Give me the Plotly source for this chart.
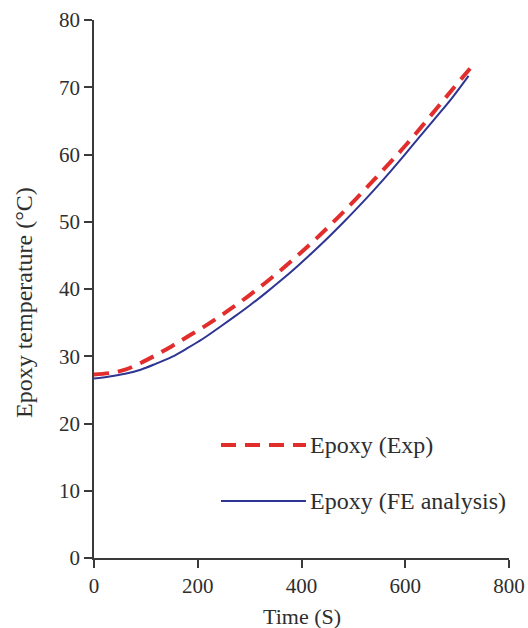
import plotly.graph_objects as go

# Measured epoxy temperature (experiment)
time_exp = [0, 30, 60, 90, 120, 150, 180, 210, 240, 270, 300, 330, 360, 390,
            420, 450, 480, 510, 540, 570, 600, 630, 660, 690, 725]
temp_exp = [27.3, 27.5, 28.0, 29.0, 30.2, 31.5, 32.9, 34.3, 35.8, 37.4, 39.1,
            40.9, 42.8, 44.8, 46.9, 49.1, 51.4, 53.8, 56.25, 58.75, 61.3, 64.0,
            66.8, 69.6, 72.8]

# Finite-element prediction
time_fe = [0, 30, 60, 90, 120, 150, 180, 210, 240, 270, 300, 330, 360, 390,
           420, 450, 480, 510, 540, 570, 600, 630, 660, 690, 722]
temp_fe = [26.7, 27.0, 27.4, 28.0, 28.9, 29.9, 31.2, 32.6, 34.2, 35.85, 37.55,
           39.35, 41.25, 43.25, 45.35, 47.55, 49.85, 52.25, 54.75, 57.35, 60.05,
           62.85, 65.6, 68.4, 71.7]

x_ticks = [0, 200, 400, 600, 800]
y_ticks = [0, 10, 20, 30, 40, 50, 60, 70, 80]

RED = "#e22d2d"
BLUE = "#2e3592"
AXIS = "#3a3a3a"
TEXT = "#2e2e2e"
FONT = "Liberation Serif"

# Plot-area geometry in pixels (used to place the hand-drawn legend and titles)
W, H = 528, 628
ML, MR, MT, MB = 94, 19, 20, 70
PW, PH = W - ML - MR, H - MT - MB


def px_x(p):
    return (p - ML) / PW


def px_y(p):
    return (H - MB - p) / PH


fig = go.Figure()
fig.add_trace(go.Scatter(x=time_exp, y=temp_exp, mode="lines", name="Epoxy (Exp)",
                         line=dict(color=RED, width=4, dash="15px,9px"),
                         line_shape="spline"))
fig.add_trace(go.Scatter(x=time_fe, y=temp_fe, mode="lines", name="Epoxy (FE analysis)",
                         line=dict(color=BLUE, width=2), line_shape="spline"))

axis_common = dict(showline=True, linecolor=AXIS, linewidth=1.5, ticks="outside",
                   ticklen=8, tickwidth=1.5, tickcolor=AXIS, showgrid=False,
                   zeroline=False, automargin=False,
                   tickfont=dict(family=FONT, size=21, color=TEXT))

fig.update_xaxes(range=[0, 800], tickvals=x_ticks, **axis_common)
fig.update_yaxes(range=[0, 80], tickvals=y_ticks, **axis_common)

# Axis titles
fig.add_annotation(xref="paper", yref="paper", x=px_x(ML + PW / 2), y=px_y(616),
                   text="Time (S)", showarrow=False, xanchor="center", yanchor="middle",
                   font=dict(family=FONT, size=22, color=TEXT))
fig.add_annotation(xref="paper", yref="paper", x=px_x(24), y=px_y(303),
                   text="Epoxy temperature (°C)", showarrow=False, textangle=-90,
                   xanchor="center", yanchor="middle",
                   font=dict(family=FONT, size=24, color=TEXT))

# Hand-placed legend: sample line plus label for each series
legend_rows = [("Epoxy (Exp)", RED, 4, "15px,9px", 445),
               ("Epoxy (FE analysis)", BLUE, 2, "solid", 501)]
for label, color, width, dash, yp in legend_rows:
    fig.add_shape(type="line", xref="paper", yref="paper",
                  x0=px_x(221), x1=px_x(306), y0=px_y(yp), y1=px_y(yp),
                  line=dict(color=color, width=width, dash=dash))
    fig.add_annotation(xref="paper", yref="paper", x=px_x(308), y=px_y(yp),
                       text=label, showarrow=False, xanchor="left", yanchor="middle",
                       font=dict(family=FONT, size=24, color=TEXT))

fig.update_layout(width=W, height=H, showlegend=False,
                  margin=dict(l=ML, r=MR, t=MT, b=MB, autoexpand=False),
                  paper_bgcolor="white", plot_bgcolor="white")

fig.write_html("out.html")
